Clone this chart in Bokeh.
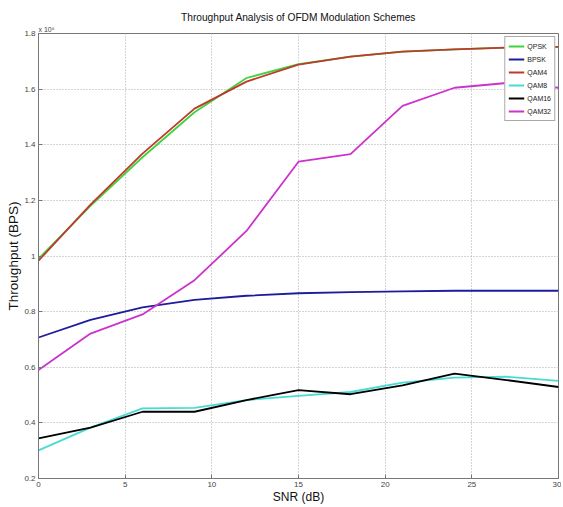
from bokeh.plotting import figure
from bokeh.models import (Legend, LegendItem, Title, FixedTicker,
                          CustomJSTickFormatter, Range1d)
from bokeh.embed import file_html
from bokeh.resources import INLINE

snr = [0, 3, 6, 9, 12, 15, 18, 21, 24, 27, 30]
qpsk = [0.99, 1.18, 1.355, 1.517, 1.64, 1.69, 1.717, 1.735, 1.743, 1.749, 1.752]
bpsk = [0.707, 0.77, 0.815, 0.842, 0.857, 0.866, 0.870, 0.873, 0.875, 0.875, 0.875]
qam4 = [0.983, 1.185, 1.368, 1.53, 1.627, 1.688, 1.717, 1.735, 1.743, 1.749, 1.752]
qam8 = [0.301, 0.383, 0.452, 0.454, 0.482, 0.497, 0.511, 0.545, 0.563, 0.566, 0.551]
qam16 = [0.344, 0.383, 0.44, 0.44, 0.482, 0.518, 0.503, 0.535, 0.577, 0.554, 0.529]
qam32 = [0.59, 0.721, 0.79, 0.913, 1.09, 1.339, 1.366, 1.54, 1.605, 1.622, 1.605]

series = [
    ("QPSK", qpsk, "#3dd43d"),
    ("BPSK", bpsk, "#1c1c9c"),
    ("QAM4", qam4, "#c0392b"),
    ("QAM8", qam8, "#46dcd2"),
    ("QAM16", qam16, "#000000"),
    ("QAM32", qam32, "#cc33cc"),
]

x_ticks = [0, 5, 10, 15, 20, 25, 30]
y_ticks = [0.2, 0.4, 0.6, 0.8, 1.0, 1.2, 1.4, 1.6, 1.8]

FONT = "'Liberation Sans', Arial, sans-serif"

p = figure(width=561, height=507, output_backend="svg", toolbar_location=None,
           x_range=Range1d(0, 30), y_range=Range1d(0.2, 1.8),
           min_border_left=38, min_border_right=3, min_border_top=33, min_border_bottom=29)

# exponent note, drawn just above the frame on the left
exp = Title(text="x 10⁶", align="left", text_font=FONT, text_font_size="7px",
            text_font_style="normal", text_color="#444444", offset=0, standoff=1)
p.add_layout(exp, "above")
main = Title(text="Throughput Analysis of OFDM Modulation Schemes", align="center",
             text_font=FONT, text_font_size="10.2px", text_font_style="normal",
             text_color="#111111", standoff=1)
p.add_layout(main, "above")

p.outline_line_color = "#777777"
p.outline_line_width = 1
p.background_fill_color = "white"
p.border_fill_color = "white"

for ax in (p.xaxis[0], p.yaxis[0]):
    ax.major_tick_in = 4
    ax.major_tick_out = 0
    ax.minor_tick_line_color = None
    ax.axis_line_color = "#777777"
    ax.major_tick_line_color = "#777777"
    ax.major_label_text_font = FONT
    ax.major_label_text_font_size = "8px"
    ax.major_label_text_color = "#444444"
    ax.major_label_standoff = 3
    ax.axis_label_text_font = FONT
    ax.axis_label_text_font_style = "normal"
    ax.axis_label_text_color = "#111111"

p.xaxis[0].ticker = FixedTicker(ticks=x_ticks)
p.yaxis[0].ticker = FixedTicker(ticks=y_ticks)
p.yaxis[0].formatter = CustomJSTickFormatter(code="return String(Math.round(tick*10)/10);")
p.xaxis[0].axis_label = "SNR (dB)"
p.yaxis[0].axis_label = "Throughput (BPS)"
p.xaxis[0].axis_label_text_font_size = "12px"
p.yaxis[0].axis_label_text_font_size = "13.5px"
p.xaxis[0].axis_label_standoff = 0
p.yaxis[0].axis_label_standoff = 0

p.xgrid.ticker = FixedTicker(ticks=x_ticks)
p.ygrid.ticker = FixedTicker(ticks=y_ticks)
for g in (p.xgrid[0], p.ygrid[0]):
    g.grid_line_color = "#aaaaaa"
    g.grid_line_dash = "1 2"
    g.grid_line_width = 1

items = []
for name, ys, col in series:
    r = p.line(snr, ys, line_color=col, line_width=1.8)
    items.append(LegendItem(label=name, renderers=[r]))

legend = Legend(items=items, location="top_right")
legend.label_text_font = FONT
legend.label_text_font_size = "7px"
legend.label_text_color = "#222222"
legend.glyph_width = 16
legend.glyph_height = 12
legend.label_height = 12
legend.spacing = 1
legend.padding = 3
legend.margin = 3
legend.label_standoff = 3
legend.border_line_color = "#555555"
legend.border_line_width = 1
legend.background_fill_alpha = 1
p.add_layout(legend)

open("out.html", "w").write(file_html(p, INLINE))
